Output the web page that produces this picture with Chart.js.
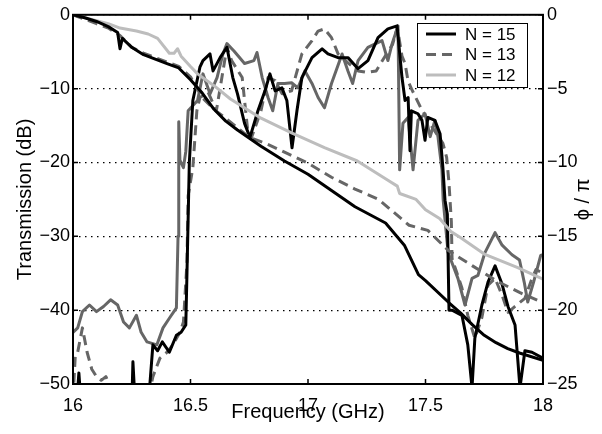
<!DOCTYPE html>
<html>
<head>
<meta charset="utf-8">
<script src="https://cdn.jsdelivr.net/npm/chart.js@4.4.0/dist/chart.umd.min.js"></script>
<style>
html, body { margin: 0; padding: 0; background: #fff; }
</style>
</head>
<body>
<canvas id="myChart" width="602" height="434"></canvas>
<script>
// tick values
var freqTicks = [16, 16.5, 17, 17.5, 18];
var dbTicks = [0, -10, -20, -30, -40, -50];
var phaseTicks = [0, -5, -10, -15, -20, -25];
var legendLabels = ["N = 15", "N = 13", "N = 12"];

// transmission (dB), [GHz, dB]
var trans15 = [[16.0,-53],[16.015,-53],[16.025,-48.5],[16.035,-53],[16.25,-53],[16.255,-47],[16.265,-53],[16.32,-53],
  [16.34,-44.7],[16.36,-45.5],[16.38,-44.3],[16.41,-45.7],[16.44,-43.4],[16.46,-43],[16.48,-42],[16.485,-35],[16.495,-20],
  [16.51,-11.6],[16.54,-7.1],[16.553,-6.2],[16.583,-5.3],[16.596,-7.6],[16.626,-5.8],[16.655,-4.4],[16.68,-8.5],[16.70,-10.7],
  [16.73,-14.7],[16.753,-16.6],[16.787,-13],[16.817,-10.3],[16.838,-8],[16.86,-10.3],[16.889,-9.9],[16.91,-11.6],[16.932,-18],
  [16.953,-13],[16.974,-8.5],[17.017,-5.8],[17.06,-4.6],[17.085,-5.3],[17.128,-5.8],[17.17,-5.8],[17.213,-7.3],[17.255,-6.2],
  [17.298,-3.1],[17.34,-1.9],[17.379,-1.5],[17.40,-8.5],[17.413,-11.6],[17.426,-11.2],[17.434,-18.4],[17.44,-13],[17.468,-13.4],
  [17.485,-14.3],[17.498,-17],[17.51,-13.9],[17.54,-14.3],[17.562,-16.1],[17.574,-20.7],[17.583,-25.1],[17.593,-27],[17.60,-40],
  [17.613,-40],[17.655,-40.7],[17.68,-44.7],[17.698,-50.5],[17.71,-43.8],[17.74,-39.3],[17.766,-36.2],[17.796,-34],[17.826,-36.5],
  [17.851,-39.5],[17.881,-42],[17.902,-50.5],[17.923,-45.5],[17.953,-45.7],[18.0,-46.5]];

var trans13 = [[16.0,-52],[16.01,-46],[16.02,-45.7],[16.04,-42.4],[16.06,-45.7],[16.08,-48],[16.1,-49],[16.12,-49.5],[16.14,-49],
  [16.16,-50.5],[16.2,-52],[16.32,-52],[16.34,-49],[16.37,-46.5],[16.4,-45.7],[16.425,-44.7],[16.455,-43],[16.47,-41.6],
  [16.485,-33.5],[16.49,-24.5],[16.51,-20.7],[16.527,-13],[16.54,-11.2],[16.575,-10.5],[16.61,-13],[16.655,-4.4],[16.675,-6.2],
  [16.72,-8.5],[16.73,-11.6],[16.745,-16.1],[16.76,-16.6],[16.8,-13],[16.83,-8.5],[16.86,-8.9],[16.89,-10.7],[16.93,-10.3],
  [16.974,-5.3],[17.017,-3.5],[17.043,-2.2],[17.07,-1.9],[17.1,-3.1],[17.128,-5.3],[17.17,-6.5],[17.213,-7.6],[17.25,-7.8],
  [17.29,-7.6],[17.33,-5.5],[17.36,-4],[17.38,-1.7],[17.40,-5.6],[17.413,-6.6],[17.426,-9],[17.44,-10],[17.48,-12.6],
  [17.53,-15.3],[17.574,-17.4],[17.59,-19.3],[17.6,-22.8],[17.61,-28],[17.613,-33],[17.655,-37],[17.68,-40.7],[17.71,-43.8],
  [17.74,-41],[17.766,-36.6],[17.796,-35.7],[17.826,-38],[17.851,-40.3],[17.881,-39.5],[17.923,-38.4],[17.95,-36],[17.97,-34.5],
  [18.0,-35]];

var trans12 = [[16.0,-43],[16.02,-42.4],[16.04,-40.2],[16.07,-39.3],[16.1,-40.2],[16.13,-39.5],[16.16,-38.6],[16.19,-39.3],
  [16.215,-41.6],[16.24,-42.4],[16.27,-40.7],[16.29,-43],[16.315,-44.3],[16.357,-44.7],[16.383,-42.4],[16.41,-41.1],[16.44,-39.7],
  [16.447,-30],[16.45,-14.5],[16.455,-19.7],[16.47,-20.7],[16.48,-18.5],[16.49,-13],[16.53,-11.6],[16.553,-8],[16.583,-10.7],
  [16.613,-8.5],[16.638,-5.3],[16.655,-3.9],[16.685,-4.9],[16.73,-6.6],[16.77,-6.2],[16.783,-5.1],[16.805,-8.5],[16.83,-11.2],
  [16.85,-13],[16.872,-9.3],[16.9,-9.3],[16.93,-9.2],[16.957,-9.9],[16.987,-7.6],[17.017,-9.3],[17.043,-11.2],[17.07,-12.6],
  [17.1,-9.3],[17.145,-5.3],[17.17,-7.6],[17.19,-9.3],[17.213,-6.2],[17.255,-4.4],[17.315,-3.5],[17.34,-6.2],[17.358,-3.9],
  [17.383,-1.5],[17.39,-21],[17.404,-14.7],[17.426,-13.9],[17.447,-21],[17.468,-14.3],[17.498,-13.4],[17.52,-16.5],[17.54,-14.3],
  [17.553,-16.5],[17.57,-21],[17.575,-25],[17.596,-32.2],[17.638,-35.7],[17.668,-39.3],[17.698,-35.7],[17.723,-35.3],
  [17.753,-32.2],[17.796,-29.5],[17.826,-31.2],[17.868,-32.5],[17.9,-33.2],[17.92,-36.2],[17.935,-38.9],[17.96,-36.2],
  [17.99,-32.6],[18.0,-32.5]];

// phase (phi / pi), right axis
var phase15 = [[16.0,0],[16.05,-0.2],[16.1,-0.45],[16.15,-0.8],[16.19,-1.2],[16.2,-2.3],[16.21,-1.6],[16.25,-2.2],[16.3,-2.7],
  [16.35,-3.0],[16.4,-3.3],[16.45,-3.6],[16.5,-4.4],[16.55,-5.3],[16.6,-6.4],[16.65,-7.2],[16.7,-7.8],[16.8,-8.9],[16.9,-9.9],
  [17.0,-10.8],[17.1,-11.9],[17.2,-13.0],[17.33,-14.1],[17.41,-15.6],[17.47,-17.6],[17.5,-18.0],[17.6,-19.5],[17.65,-20.2],
  [17.7,-21.0],[17.75,-21.7],[17.8,-22.2],[17.85,-22.6],[17.9,-22.9],[18.0,-23.4]];

var phase13 = [[16.0,0],[16.05,-0.3],[16.1,-0.6],[16.15,-0.9],[16.2,-1.4],[16.25,-2.2],[16.3,-2.6],[16.35,-2.9],[16.4,-3.2],
  [16.45,-3.5],[16.5,-4.2],[16.55,-5.6],[16.6,-6.4],[16.65,-7.0],[16.75,-8.3],[16.82,-8.7],[16.9,-9.3],[17.0,-10.05],[17.1,-11.0],
  [17.2,-11.8],[17.3,-12.5],[17.43,-14.25],[17.51,-14.6],[17.6,-16.0],[17.7,-17.0],[17.8,-18.0],[17.9,-18.8],[18.0,-19.5]];

var phase12 = [[16.0,0],[16.05,-0.2],[16.1,-0.4],[16.15,-0.6],[16.2,-0.9],[16.27,-1.1],[16.32,-1.3],[16.36,-1.6],[16.41,-2.6],
  [16.43,-2.6],[16.445,-2.3],[16.46,-2.8],[16.5,-3.5],[16.53,-4.0],[16.6,-4.8],[16.67,-5.7],[16.8,-7.0],[16.93,-8.0],[17.07,-9.0],
  [17.21,-9.9],[17.34,-11.2],[17.38,-11.6],[17.39,-12.1],[17.46,-12.5],[17.5,-13.2],[17.56,-13.8],[17.61,-14.7],[17.65,-15.1],
  [17.75,-16.2],[17.89,-17.1],[18.0,-17.9]];

var black = "#000000";
var midGray = "#666666";
var lightGray = "#bdbdbd";
var lw = 3;

function toXY(arr) {
  return arr.map(function(p) { return {x: p[0], y: p[1]}; });
}
function minus(v) {
  return String(v).replace("-", "\u2212");
}

var fontFam = "'Liberation Sans', Arial, Helvetica, sans-serif";
Chart.defaults.font.family = fontFam;
Chart.defaults.color = "#000";

// box, inward ticks, right title and legend
var frame = {
  id: "frame",
  afterDraw: function(chart) {
    var ctx = chart.ctx;
    var a = chart.chartArea;
    var xs = chart.scales.x, ys = chart.scales.y, y2 = chart.scales.y2;
    ctx.save();
    ctx.strokeStyle = "#000";
    ctx.lineWidth = 2;
    ctx.strokeRect(a.left, a.top, a.right - a.left, a.bottom - a.top);

    ctx.lineWidth = 1.5;
    ctx.beginPath();
    freqTicks.forEach(function(f) {
      var px = xs.getPixelForValue(f);
      ctx.moveTo(px, a.bottom); ctx.lineTo(px, a.bottom - 5);
      ctx.moveTo(px, a.top); ctx.lineTo(px, a.top + 5);
    });
    dbTicks.forEach(function(d) {
      var py = ys.getPixelForValue(d);
      ctx.moveTo(a.left, py); ctx.lineTo(a.left + 5, py);
    });
    phaseTicks.forEach(function(p) {
      var py = y2.getPixelForValue(p);
      ctx.moveTo(a.right, py); ctx.lineTo(a.right - 5, py);
    });
    ctx.stroke();

    // right axis title, reads bottom to top
    ctx.fillStyle = "#000";
    ctx.font = "20px " + fontFam;
    ctx.textAlign = "center";
    ctx.textBaseline = "middle";
    ctx.translate(583, (a.top + a.bottom) / 2);
    ctx.rotate(-Math.PI / 2);
    ctx.fillText("\u03d5 / \u03c0", 0, 0);
    ctx.restore();

    // legend box
    ctx.save();
    var bx = 417, by = 23, bw = 110, bh = 64;
    ctx.fillStyle = "#fff";
    ctx.fillRect(bx, by, bw, bh);
    ctx.strokeStyle = "#000";
    ctx.lineWidth = 1;
    ctx.strokeRect(bx + 0.5, by + 0.5, bw, bh);
    ctx.font = "17px " + fontFam;
    ctx.textAlign = "left";
    ctx.textBaseline = "middle";
    chart.data.datasets.slice(0, 3).forEach(function(ds, i) {
      var ly = by + 11 + i * 20.5;
      ctx.strokeStyle = ds.borderColor;
      ctx.lineWidth = ds.borderWidth;
      ctx.setLineDash(ds.borderDash || []);
      ctx.beginPath();
      ctx.moveTo(bx + 9, ly);
      ctx.lineTo(bx + 39, ly);
      ctx.stroke();
      ctx.setLineDash([]);
      ctx.fillStyle = "#000";
      ctx.fillText(legendLabels[i], bx + 48, ly + 1);
    });
    ctx.restore();
  }
};

var ctx = document.getElementById("myChart").getContext("2d");
var chart = new Chart(ctx, {
  type: "line",
  data: {
    datasets: [
      {label: legendLabels[0], data: toXY(phase15), yAxisID: "y2", borderColor: black, borderWidth: lw, order: 0},
      {label: legendLabels[1], data: toXY(phase13), yAxisID: "y2", borderColor: midGray, borderWidth: lw, borderDash: [10, 6], order: 1},
      {label: legendLabels[2], data: toXY(phase12), yAxisID: "y2", borderColor: lightGray, borderWidth: lw, order: 2},
      {label: "T15", data: toXY(trans15), yAxisID: "y", borderColor: black, borderWidth: lw, order: 3},
      {label: "T13", data: toXY(trans13), yAxisID: "y", borderColor: midGray, borderWidth: lw, borderDash: [10, 6], order: 4},
      {label: "T12", data: toXY(trans12), yAxisID: "y", borderColor: midGray, borderWidth: lw, order: 5}
    ]
  },
  options: {
    responsive: false,
    animation: false,
    devicePixelRatio: 1,
    layout: {padding: {top: 14, left: 0, right: 0, bottom: 0}},
    elements: {point: {radius: 0}, line: {tension: 0, fill: false, borderJoinStyle: "round"}},
    plugins: {legend: {display: false}, tooltip: {enabled: false}},
    scales: {
      x: {
        type: "linear", min: 16, max: 18,
        afterBuildTicks: function(s) { s.ticks = freqTicks.map(function(v) { return {value: v}; }); },
        ticks: {font: {size: 18}, padding: 3, maxRotation: 0, autoSkip: false, callback: function(v) { return String(v); }},
        grid: {display: false},
        border: {display: false},
        title: {display: true, text: "Frequency (GHz)", font: {size: 20}, padding: {top: 0, bottom: 10}},
        afterFit: function(s) { s.height = 50; }
      },
      y: {
        position: "left", min: -50, max: 0,
        afterBuildTicks: function(s) { s.ticks = dbTicks.map(function(v) { return {value: v}; }); },
        ticks: {font: {size: 18}, padding: 3, callback: minus},
        grid: {color: "#000", lineWidth: 1.2, drawTicks: false, borderDash: [1.5, 4.5]},
        border: {display: false, dash: [1.5, 4.5]},
        title: {display: true, text: "Transmission (dB)", font: {size: 20}, padding: {top: 13, bottom: 0}},
        afterFit: function(s) { s.width = 73; }
      },
      y2: {
        position: "right", min: -25, max: 0,
        afterBuildTicks: function(s) { s.ticks = phaseTicks.map(function(v) { return {value: v}; }); },
        ticks: {font: {size: 18}, padding: 4, callback: minus},
        grid: {display: false, drawTicks: false},
        border: {display: false},
        afterFit: function(s) { s.width = 59; }
      }
    }
  },
  plugins: [frame]
});
</script>
</body>
</html>
